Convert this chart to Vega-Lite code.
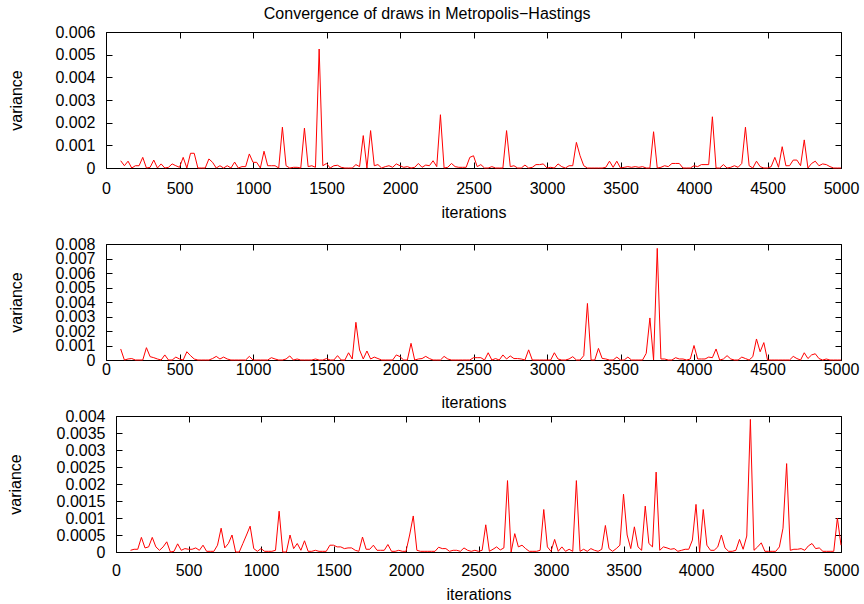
{
  "$schema": "https://vega.github.io/schema/vega-lite/v6.json",
  "background": "white",
  "padding": {"left": 7, "top": 5, "right": 5, "bottom": 5},
  "title": {"text": "Convergence of draws in Metropolis\u2212Hastings", "fontSize": 16, "fontWeight": "normal", "font": "Liberation Sans", "color": "black", "anchor": "middle", "dx": -6, "offset": 2},
  "config": {
    "font": "Liberation Sans",
    "view": {"stroke": "black", "strokeWidth": 1},
    "axis": {"grid": false, "domain": false, "ticks": true, "tickColor": "black", "tickSize": -6, "tickWidth": 1, "labelFontSize": 16, "labelColor": "black", "labelFont": "Liberation Sans", "titleFont": "Liberation Sans", "titleFontSize": 16, "titleFontWeight": "normal", "titleColor": "black", "labelFlush": false, "labelOverlap": false}
  },
  "data": {"values": [
{"i":100,"a":0.00032,"b":0.00076,"c":0.00005},
{"i":125,"a":0.0001,"b":0,"c":0.00008},
{"i":150,"a":0.0003,"b":0.00007,"c":0.00008},
{"i":175,"a":0,"b":0.0001,"c":0.00043},
{"i":200,"a":0.0001,"b":0,"c":0.00012},
{"i":225,"a":0.0001,"b":0,"c":0.00015},
{"i":250,"a":0.00047,"b":0,"c":0.00043},
{"i":275,"a":0,"b":0.00085,"c":0.00015},
{"i":300,"a":0.00003,"b":0.00023,"c":0.00005},
{"i":325,"a":0.00035,"b":0.00016,"c":0.00015},
{"i":350,"a":0,"b":0.00007,"c":0.0003},
{"i":375,"a":0.00018,"b":0,"c":0},
{"i":400,"a":0,"b":0.00035,"c":0.00002},
{"i":425,"a":0.00003,"b":0,"c":0.00024},
{"i":450,"a":0.00018,"b":0,"c":0.00005},
{"i":475,"a":0.0001,"b":0.0002,"c":0.0001},
{"i":500,"a":0.00003,"b":0.00007,"c":0.00008},
{"i":525,"a":0.00047,"b":0,"c":0.00008},
{"i":550,"a":0,"b":0.00057,"c":0.00012},
{"i":575,"a":0.00065,"b":0.0003,"c":0.00005},
{"i":600,"a":0.00065,"b":0.00007,"c":0.0002},
{"i":625,"a":0,"b":0,"c":0.00002},
{"i":650,"a":0,"b":0,"c":0.00002},
{"i":675,"a":0,"b":0,"c":0.00002},
{"i":700,"a":0.0004,"b":0,"c":0.0002},
{"i":725,"a":0.00025,"b":0.0001,"c":0.0007},
{"i":750,"a":0,"b":0.00025,"c":0.00012},
{"i":775,"a":0.0001,"b":0.00007,"c":0.00025},
{"i":800,"a":0,"b":0.0002,"c":0.0005},
{"i":825,"a":0.0001,"b":0.00007,"c":0},
{"i":850,"a":0,"b":0,"c":0},
{"i":875,"a":0.00026,"b":0,"c":0.00025},
{"i":900,"a":0,"b":0,"c":0.0005},
{"i":925,"a":0.00006,"b":0,"c":0.00076},
{"i":950,"a":0.00006,"b":0,"c":0.0001},
{"i":975,"a":0.00062,"b":0.00025,"c":0.00002},
{"i":1000,"a":0.00025,"b":0,"c":0.0001},
{"i":1025,"a":0.00025,"b":0,"c":0.00002},
{"i":1050,"a":0,"b":0,"c":0.00002},
{"i":1075,"a":0.00074,"b":0,"c":0.00002},
{"i":1100,"a":0.0001,"b":0,"c":0.00005},
{"i":1125,"a":0.0001,"b":0.00016,"c":0.0012},
{"i":1150,"a":0.0001,"b":0.00007,"c":0},
{"i":1175,"a":0,"b":0,"c":0},
{"i":1200,"a":0.0018,"b":0,"c":0.0005},
{"i":1225,"a":0.0001,"b":0.00007,"c":0.0001},
{"i":1250,"a":0,"b":0.00028,"c":0.00025},
{"i":1275,"a":0.00003,"b":0,"c":0.00005},
{"i":1300,"a":0.00003,"b":0.00007,"c":0.00033},
{"i":1325,"a":0,"b":0,"c":0.00002},
{"i":1350,"a":0.00176,"b":0,"c":0.00002},
{"i":1375,"a":0.00006,"b":0,"c":0.00005},
{"i":1400,"a":0.0001,"b":0,"c":0.00002},
{"i":1425,"a":0.00003,"b":0.00007,"c":0.00002},
{"i":1450,"a":0.00525,"b":0,"c":0.00002},
{"i":1475,"a":0.0001,"b":0,"c":0.0002},
{"i":1500,"a":0.0002,"b":0.0001,"c":0.0002},
{"i":1525,"a":0,"b":0,"c":0.00015},
{"i":1550,"a":0.0001,"b":0,"c":0.00015},
{"i":1575,"a":0.00012,"b":0.0003,"c":0.0001},
{"i":1600,"a":0.00003,"b":0,"c":0.00012},
{"i":1625,"a":0,"b":0,"c":0.00012},
{"i":1650,"a":0,"b":0.0005,"c":0.00005},
{"i":1675,"a":0,"b":0.00007,"c":0.00002},
{"i":1700,"a":0.00015,"b":0.0026,"c":0.00044},
{"i":1725,"a":0.00006,"b":0.00069,"c":0.00008},
{"i":1750,"a":0.00143,"b":0.00007,"c":0.00008},
{"i":1775,"a":0,"b":0.00062,"c":0.0002},
{"i":1800,"a":0.00165,"b":0.00007,"c":0.00005},
{"i":1825,"a":0.0001,"b":0.0002,"c":0.00005},
{"i":1850,"a":0.00015,"b":0.0001,"c":0.00005},
{"i":1875,"a":0,"b":0,"c":0.00022},
{"i":1900,"a":0.00006,"b":0,"c":0.00002},
{"i":1925,"a":0.0001,"b":0,"c":0.00002},
{"i":1950,"a":0.00003,"b":0,"c":0.00005},
{"i":1975,"a":0.00018,"b":0.00035,"c":0.00002},
{"i":2000,"a":0.0001,"b":0.00023,"c":0.00002},
{"i":2025,"a":0.00003,"b":0,"c":0.0005},
{"i":2050,"a":0.00006,"b":0,"c":0.00106},
{"i":2075,"a":0,"b":0.00115,"c":0.00005},
{"i":2100,"a":0.00003,"b":0,"c":0.00002},
{"i":2125,"a":0.0002,"b":0.00007,"c":0.00002},
{"i":2150,"a":0.00003,"b":0.0001,"c":0.00002},
{"i":2175,"a":0.00013,"b":0.00025,"c":0.00002},
{"i":2200,"a":0.0001,"b":0.0001,"c":0.00002},
{"i":2225,"a":0.00032,"b":0,"c":0.00014},
{"i":2250,"a":0.00006,"b":0,"c":0.0001},
{"i":2275,"a":0.00235,"b":0,"c":0.0001},
{"i":2300,"a":0,"b":0.00025,"c":0.00002},
{"i":2325,"a":0.00003,"b":0.00007,"c":0.00005},
{"i":2350,"a":0.0002,"b":0,"c":0.00005},
{"i":2375,"a":0.00006,"b":0,"c":0.00002},
{"i":2400,"a":0.00003,"b":0,"c":0.00012},
{"i":2425,"a":0.00003,"b":0,"c":0.00005},
{"i":2450,"a":0.00003,"b":0,"c":0.00002},
{"i":2475,"a":0.00047,"b":0,"c":0.00005},
{"i":2500,"a":0.00054,"b":0.00016,"c":0.00002},
{"i":2525,"a":0.00006,"b":0.00016,"c":0.00005},
{"i":2550,"a":0.00015,"b":0.00016,"c":0.0008},
{"i":2575,"a":0,"b":0,"c":0.00002},
{"i":2600,"a":0,"b":0.0005,"c":0.00008},
{"i":2625,"a":0.00006,"b":0,"c":0.00015},
{"i":2650,"a":0,"b":0.0001,"c":0.00006},
{"i":2675,"a":0,"b":0,"c":0.00012},
{"i":2700,"a":0,"b":0.00035,"c":0.0021},
{"i":2725,"a":0.00165,"b":0.00007,"c":0},
{"i":2750,"a":0.00006,"b":0.00028,"c":0.00054},
{"i":2775,"a":0.0001,"b":0.0001,"c":0.00015},
{"i":2800,"a":0,"b":0.0001,"c":0.0002},
{"i":2825,"a":0,"b":0.00007,"c":0.0001},
{"i":2850,"a":0.00013,"b":0,"c":0.00002},
{"i":2875,"a":0,"b":0.0007,"c":0.00002},
{"i":2900,"a":0.00003,"b":0,"c":0.00002},
{"i":2925,"a":0.00015,"b":0,"c":0.00005},
{"i":2950,"a":0.00015,"b":0,"c":0.00125},
{"i":2975,"a":0.00018,"b":0,"c":0.00015},
{"i":3000,"a":0,"b":0,"c":0.00002},
{"i":3025,"a":0.00003,"b":0,"c":0.00037},
{"i":3050,"a":0,"b":0.0005,"c":0.00002},
{"i":3075,"a":0.00018,"b":0.00007,"c":0.00015},
{"i":3100,"a":0.00006,"b":0,"c":0.00002},
{"i":3125,"a":0,"b":0,"c":0.00008},
{"i":3150,"a":0.0001,"b":0.00007,"c":0.00002},
{"i":3175,"a":0.0001,"b":0.00023,"c":0.0021},
{"i":3200,"a":0.00113,"b":0,"c":0.00002},
{"i":3225,"a":0.00054,"b":0,"c":0.00008},
{"i":3250,"a":0.0001,"b":0.0003,"c":0.00002},
{"i":3275,"a":0,"b":0.0039,"c":0.0001},
{"i":3300,"a":0,"b":0,"c":0.00005},
{"i":3325,"a":0,"b":0,"c":0.00002},
{"i":3350,"a":0,"b":0.0008,"c":0.00008},
{"i":3375,"a":0,"b":0.00011,"c":0.00078},
{"i":3400,"a":0.00003,"b":0.00007,"c":0.0001},
{"i":3425,"a":0.0003,"b":0,"c":0.00002},
{"i":3450,"a":0.00003,"b":0,"c":0.0001},
{"i":3475,"a":0.0003,"b":0.0002,"c":0.0002},
{"i":3500,"a":0,"b":0,"c":0.0017},
{"i":3525,"a":0.00003,"b":0,"c":0.0005},
{"i":3550,"a":0.00006,"b":0.0002,"c":0.0001},
{"i":3575,"a":0.00003,"b":0,"c":0.00074},
{"i":3600,"a":0.00006,"b":0,"c":0.00015},
{"i":3625,"a":0.00003,"b":0,"c":0.00005},
{"i":3650,"a":0.00006,"b":0,"c":0.00135},
{"i":3675,"a":0,"b":0.00046,"c":0.00025},
{"i":3700,"a":0,"b":0.0029,"c":0.00015},
{"i":3725,"a":0.0016,"b":0,"c":0.00235},
{"i":3750,"a":0,"b":0.0077,"c":0.00005},
{"i":3775,"a":0.00003,"b":0.00007,"c":0.00015},
{"i":3800,"a":0.0001,"b":0.00007,"c":0.00012},
{"i":3825,"a":0.00006,"b":0,"c":0.00008},
{"i":3850,"a":0.0002,"b":0,"c":0.0001},
{"i":3875,"a":0.0002,"b":0.00016,"c":0.00002},
{"i":3900,"a":0.0002,"b":0.00007,"c":0.00005},
{"i":3925,"a":0,"b":0.00007,"c":0.00008},
{"i":3950,"a":0,"b":0,"c":0.00008},
{"i":3975,"a":0,"b":0.00007,"c":0.00035},
{"i":4000,"a":0.0001,"b":0.001,"c":0.0014},
{"i":4025,"a":0.00006,"b":0.00007,"c":0},
{"i":4050,"a":0.00015,"b":0.00007,"c":0.00125},
{"i":4075,"a":0.00015,"b":0.00007,"c":0.0002},
{"i":4100,"a":0.00015,"b":0.0002,"c":0.00005},
{"i":4125,"a":0.00226,"b":0.00016,"c":0.00005},
{"i":4150,"a":0,"b":0.00076,"c":0.00015},
{"i":4175,"a":0,"b":0,"c":0.0005},
{"i":4200,"a":0.00015,"b":0.00007,"c":0.00012},
{"i":4225,"a":0,"b":0.0003,"c":0.00002},
{"i":4250,"a":0.00003,"b":0.00007,"c":0.00002},
{"i":4275,"a":0.0001,"b":0,"c":0.00005},
{"i":4300,"a":0.00003,"b":0,"c":0.00037},
{"i":4325,"a":0.0002,"b":0.0002,"c":0.00008},
{"i":4350,"a":0.0018,"b":0.0001,"c":0.00047},
{"i":4375,"a":0.0001,"b":0,"c":0.0039},
{"i":4400,"a":0,"b":0.00023,"c":0.00005},
{"i":4425,"a":0.0003,"b":0.00145,"c":0.00015},
{"i":4450,"a":0.00006,"b":0.00057,"c":0.00027},
{"i":4475,"a":0,"b":0.0012,"c":0.00002},
{"i":4500,"a":0,"b":0,"c":0.00002},
{"i":4525,"a":0.00006,"b":0,"c":0.00002},
{"i":4550,"a":0.00047,"b":0,"c":0.00002},
{"i":4575,"a":0.00003,"b":0,"c":0.00015},
{"i":4600,"a":0.00094,"b":0,"c":0.0007},
{"i":4625,"a":0.0001,"b":0,"c":0.0026},
{"i":4650,"a":0.0001,"b":0,"c":0.00005},
{"i":4675,"a":0.00035,"b":0.00025,"c":0.00008},
{"i":4700,"a":0.00035,"b":0.0001,"c":0.00008},
{"i":4725,"a":0.0001,"b":0,"c":0.0001},
{"i":4750,"a":0.00124,"b":0.0005,"c":0.00005},
{"i":4775,"a":0,"b":0.0001,"c":0.00018},
{"i":4800,"a":0.0002,"b":0.00035,"c":0.00025},
{"i":4825,"a":0.0003,"b":0.00043,"c":0.0001},
{"i":4850,"a":0.0001,"b":0.0001,"c":0.00012},
{"i":4875,"a":0.00018,"b":0,"c":0.00002},
{"i":4900,"a":0.00015,"b":0.00007,"c":0.00002},
{"i":4925,"a":0.00006,"b":0,"c":0.00002},
{"i":4950,"a":0,"b":0,"c":0.00002},
{"i":4975,"a":0,"b":0,"c":0.001},
{"i":5000,"a":0,"b":0,"c":0.0002}
  ]},
  "concat": [
    {
      "concat": [
        {
          "width": 735, "height": 136,
          "layer": [
            {"mark": {"type": "line", "color": "#ff0000", "strokeWidth": 1},
             "encoding": {
               "x": {"field": "i", "type": "quantitative", "scale": {"domain": [0, 5000], "nice": false}, "axis": {"orient": "bottom", "values": [0,500,1000,1500,2000,2500,3000,3500,4000,4500,5000], "format": "d", "title": "iterations", "labelPadding": 18, "titlePadding": 8}},
               "y": {"field": "a", "type": "quantitative", "scale": {"domain": [0, 0.006], "nice": false}, "axis": {"orient": "left", "values": [0,0.001,0.002,0.003,0.004,0.005,0.006], "format": "~g", "title": "variance", "labelPadding": 17, "titlePadding": 30}}
             }},
            {"mark": {"type": "line", "opacity": 0},
             "encoding": {
               "x": {"field": "i", "type": "quantitative", "axis": {"orient": "top", "values": [0,500,1000,1500,2000,2500,3000,3500,4000,4500,5000], "labels": false, "title": null}},
               "y": {"field": "a", "type": "quantitative", "axis": {"orient": "right", "values": [0,0.001,0.002,0.003,0.004,0.005,0.006], "labels": false, "title": null}}
             }}
          ],
          "resolve": {"axis": {"x": "independent", "y": "independent"}}
        },
        {
          "width": 735, "height": 116,
          "layer": [
            {"mark": {"type": "line", "color": "#ff0000", "strokeWidth": 1},
             "encoding": {
               "x": {"field": "i", "type": "quantitative", "scale": {"domain": [0, 5000], "nice": false}, "axis": {"orient": "bottom", "values": [0,500,1000,1500,2000,2500,3000,3500,4000,4500,5000], "format": "d", "title": "iterations", "labelPadding": 7, "titlePadding": 17}},
               "y": {"field": "b", "type": "quantitative", "scale": {"domain": [0, 0.008], "nice": false}, "axis": {"orient": "left", "values": [0,0.001,0.002,0.003,0.004,0.005,0.006,0.007,0.008], "format": "~g", "title": "variance", "labelPadding": 17, "titlePadding": 30}}
             }},
            {"mark": {"type": "line", "opacity": 0},
             "encoding": {
               "x": {"field": "i", "type": "quantitative", "axis": {"orient": "top", "values": [0,500,1000,1500,2000,2500,3000,3500,4000,4500,5000], "labels": false, "title": null}},
               "y": {"field": "b", "type": "quantitative", "axis": {"orient": "right", "values": [0,0.001,0.002,0.003,0.004,0.005,0.006,0.007,0.008], "labels": false, "title": null}}
             }}
          ],
          "resolve": {"axis": {"x": "independent", "y": "independent"}}
        }
      ],
      "columns": 1,
      "align": "none",
      "spacing": 14
    },
    {
      "width": 735, "height": 136,
      "view": {"stroke": null},
      "layer": [
        {"mark": {"type": "line", "color": "#ff0000", "strokeWidth": 1},
         "encoding": {
           "x": {"field": "i", "type": "quantitative", "scale": {"domain": [0, 5000], "nice": false, "range": [10, 735]}, "axis": {"orient": "bottom", "domain": true, "domainColor": "black", "domainWidth": 1, "values": [0,500,1000,1500,2000,2500,3000,3500,4000,4500,5000], "format": "d", "title": "iterations", "labelPadding": 16, "titlePadding": 8}},
           "y": {"field": "c", "type": "quantitative", "scale": {"domain": [0, 0.004], "nice": false}, "axis": {"orient": "left", "offset": -10, "domain": true, "domainColor": "black", "domainWidth": 1, "values": [0,0.0005,0.001,0.0015,0.002,0.0025,0.003,0.0035,0.004], "format": "~g", "title": "variance", "labelPadding": 17, "titlePadding": 33}}
         }},
        {"mark": {"type": "line", "opacity": 0},
         "encoding": {
           "x": {"field": "i", "type": "quantitative", "axis": {"orient": "top", "domain": true, "domainColor": "black", "domainWidth": 1, "values": [0,500,1000,1500,2000,2500,3000,3500,4000,4500,5000], "labels": false, "title": null}},
           "y": {"field": "c", "type": "quantitative", "axis": {"orient": "right", "domain": true, "domainColor": "black", "domainWidth": 1, "values": [0,0.0005,0.001,0.0015,0.002,0.0025,0.003,0.0035,0.004], "labels": false, "title": null}}
         }}
      ],
      "resolve": {"axis": {"x": "independent", "y": "independent"}}
    }
  ],
  "columns": 1,
  "align": "none",
  "spacing": -3
}
